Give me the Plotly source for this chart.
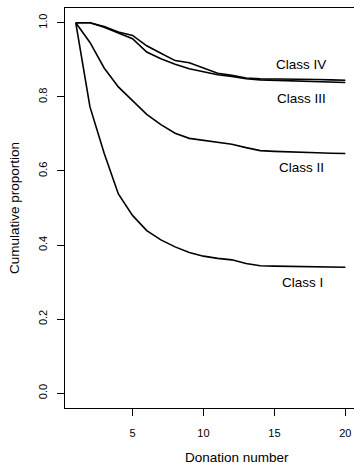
import plotly.graph_objects as go

# Cumulative proportion of donors still active, by donation number
donation = list(range(1, 21))
class_i = [1.0, 0.773, 0.648, 0.538, 0.480, 0.439, 0.414, 0.395, 0.380, 0.370,
           0.364, 0.360, 0.350, 0.344, 0.343, 0.342, 0.342, 0.341, 0.340, 0.340]
class_ii = [1.0, 0.947, 0.878, 0.827, 0.790, 0.753, 0.725, 0.702, 0.688, 0.682,
            0.677, 0.672, 0.663, 0.655, 0.653, 0.651, 0.650, 0.649, 0.648, 0.647]
class_iii = [1.0, 1.0, 0.988, 0.972, 0.957, 0.921, 0.903, 0.888, 0.876, 0.868,
             0.860, 0.855, 0.849, 0.846, 0.845, 0.844, 0.841, 0.840, 0.840, 0.839]
class_iv = [1.0, 1.0, 0.990, 0.975, 0.966, 0.938, 0.918, 0.898, 0.892, 0.878,
            0.864, 0.858, 0.851, 0.849, 0.849, 0.848, 0.847, 0.847, 0.846, 0.845]

series_names = ["Class I", "Class II", "Class III", "Class IV"]
series_values = [class_i, class_ii, class_iii, class_iv]
# label anchor positions (donation number, proportion)
label_pos = [(17.0, 0.300), (16.9, 0.610), (16.9, 0.795), (16.9, 0.887)]

x_ticks = [5, 10, 15, 20]
y_ticks = [0.0, 0.2, 0.4, 0.6, 0.8, 1.0]

FONT = "Liberation Sans, Arial, Helvetica, sans-serif"

fig = go.Figure()
for name, vals in zip(series_names, series_values):
    fig.add_trace(go.Scatter(
        x=donation, y=vals, mode="lines", name=name,
        line=dict(color="black", width=1.6), showlegend=False,
    ))

annotations = []
for name, (lx, ly) in zip(series_names, label_pos):
    annotations.append(dict(
        x=lx, y=ly, xref="x", yref="y", text=name, showarrow=False,
        font=dict(family=FONT, size=13.5, color="black"),
        xanchor="center", yanchor="middle",
    ))

annotations.append(dict(
    x=210.5 / 354, y=-(458 - 408) / 400.5, xref="paper", yref="paper",
    text="Donation number", showarrow=False,
    font=dict(family=FONT, size=13.5, color="black"),
    xanchor="center", yanchor="middle",
))
annotations.append(dict(
    x=-(65 - 14) / 289, y=0.5, xref="paper", yref="paper",
    text="Cumulative proportion", showarrow=False, textangle=-90,
    font=dict(family=FONT, size=13.5, color="black"),
    xanchor="center", yanchor="middle",
))

fig.update_layout(
    width=354, height=466,
    margin=dict(l=65, r=0, t=7.5, b=58, pad=0),
    paper_bgcolor="white", plot_bgcolor="white",
    annotations=annotations,
    font=dict(family=FONT, color="black"),
)

fig.update_xaxes(
    range=[0.24, 20.61], tickvals=x_ticks, ticktext=[str(v) for v in x_ticks],
    ticks="outside", ticklen=7, tickwidth=1, tickcolor="black",
    showline=True, linecolor="black", linewidth=1, mirror=True,
    showgrid=False, zeroline=False,
    tickfont=dict(family=FONT, size=11, color="black"),
    ticklabelstandoff=8,
)
fig.update_yaxes(
    range=[-0.04, 1.04], tickvals=y_ticks, ticktext=[f"{v:.1f}" for v in y_ticks],
    ticks="outside", ticklen=7, tickwidth=1, tickcolor="black",
    showline=True, linecolor="black", linewidth=1,
    showgrid=False, zeroline=False, tickangle=-90,
    tickfont=dict(family=FONT, size=11, color="black"),
    ticklabelstandoff=6,
)

fig.write_html("out.html")
